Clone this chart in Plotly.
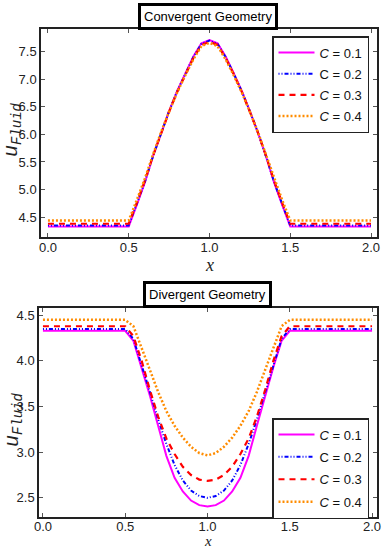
import plotly.graph_objects as go

# ---------------- data ----------------
c_labels = ["<i>C</i> = 0.1", "C = 0.2", "<i>C</i> = 0.3", "<i>C</i> = 0.4"]

x_pts = [0.0, 0.5, 0.55, 0.6, 0.65, 0.7, 0.75, 0.8, 0.85, 0.9, 0.95, 1.0,
         1.05, 1.1, 1.15, 1.2, 1.25, 1.3, 1.35, 1.4, 1.45, 1.5, 2.0]

# Convergent geometry
conv_c01 = [4.33, 4.33, 4.72, 5.13, 5.60, 6.03, 6.42, 6.79, 7.11, 7.41, 7.65, 7.71,
            7.65, 7.41, 7.11, 6.79, 6.42, 6.03, 5.60, 5.13, 4.72, 4.33, 4.33]
conv_c02 = [4.35, 4.35, 4.74, 5.14, 5.60, 6.03, 6.42, 6.78, 7.10, 7.40, 7.64, 7.70,
            7.64, 7.40, 7.10, 6.78, 6.42, 6.03, 5.60, 5.14, 4.74, 4.35, 4.35]
conv_c03 = [4.38, 4.38, 4.76, 5.16, 5.61, 6.03, 6.41, 6.77, 7.09, 7.38, 7.62, 7.68,
            7.62, 7.38, 7.09, 6.77, 6.41, 6.03, 5.61, 5.16, 4.76, 4.38, 4.38]
conv_c04 = [4.44, 4.44, 4.81, 5.20, 5.63, 6.04, 6.41, 6.76, 7.07, 7.36, 7.60, 7.66,
            7.60, 7.36, 7.07, 6.76, 6.41, 6.04, 5.63, 5.20, 4.81, 4.44, 4.44]

# Divergent geometry
div_c01 = [4.33, 4.33, 4.22, 3.93, 3.62, 3.29, 2.96, 2.72, 2.57, 2.47, 2.42, 2.405,
           2.42, 2.47, 2.57, 2.72, 2.96, 3.29, 3.62, 3.93, 4.22, 4.33, 4.33]
div_c02 = [4.35, 4.35, 4.24, 3.96, 3.66, 3.36, 3.09, 2.86, 2.69, 2.58, 2.52, 2.50,
           2.52, 2.58, 2.69, 2.86, 3.09, 3.36, 3.66, 3.96, 4.24, 4.35, 4.35]
div_c03 = [4.38, 4.38, 4.27, 4.00, 3.68, 3.39, 3.15, 2.98, 2.84, 2.75, 2.70, 2.686,
           2.70, 2.75, 2.84, 2.98, 3.15, 3.39, 3.68, 4.00, 4.27, 4.38, 4.38]
div_c04 = [4.45, 4.45, 4.38, 4.15, 3.90, 3.66, 3.45, 3.29, 3.16, 3.06, 2.99, 2.965,
           2.99, 3.06, 3.16, 3.29, 3.45, 3.66, 3.90, 4.15, 4.38, 4.45, 4.45]

x_ticks = [0.0, 0.5, 1.0, 1.5, 2.0]
conv_yticks = [4.5, 5.0, 5.5, 6.0, 6.5, 7.0, 7.5]
div_yticks = [2.5, 3.0, 3.5, 4.0, 4.5]

# ---------------- styles ----------------
W, H = 384, 550
styles = [
    dict(color="#ff00ff", dash="solid", width=2),
    dict(color="#0000ff", dash="1px,2px,1px,2px,4px,2px", width=2),
    dict(color="#ff0000", dash="6px,5px", width=2.2),
    dict(color="#ff8c00", dash="2px,2px", width=2.5),
]

fig = go.Figure()
conv = [conv_c01, conv_c02, conv_c03, conv_c04]
div = [div_c01, div_c02, div_c03, div_c04]
for i in range(4):
    fig.add_trace(go.Scatter(x=x_pts, y=conv[i], mode="lines", name=c_labels[i],
                             line=styles[i], xaxis="x", yaxis="y", legend="legend",
                             legendgroup=f"a{i}"))
for i in range(4):
    fig.add_trace(go.Scatter(x=x_pts, y=div[i], mode="lines", name=c_labels[i],
                             line=styles[i], xaxis="x2", yaxis="y2", legend="legend2",
                             legendgroup=f"b{i}"))

def px_x(p):
    return p / W

def px_y(p):
    return 1 - p / H

axis_common = dict(showgrid=False, zeroline=False, showline=True, linecolor="#222",
                   linewidth=1.5, mirror="ticks", ticks="inside", ticklen=4,
                   tickcolor="#555", tickwidth=1, automargin=False,
                   tickfont=dict(family="Liberation Sans, Arial", size=13, color="#222"))

legend_common = dict(bgcolor="white", bordercolor="#222", borderwidth=1.5,
                     font=dict(family="Liberation Sans, Arial", size=13, color="#111"),
                     xref="paper", yref="paper", xanchor="left", yanchor="top",
                     itemwidth=36)

fig.update_layout(
    width=W, height=H, margin=dict(l=0, r=0, t=0, b=0, autoexpand=False),
    paper_bgcolor="white", plot_bgcolor="white",
    xaxis=dict(domain=[px_x(41), px_x(377)], range=[-0.043, 2.037], anchor="y",
               ticklabelstandoff=-2,
               tickvals=x_ticks, ticktext=[f"{v:.1f}" for v in x_ticks], **axis_common),
    yaxis=dict(domain=[px_y(237), px_y(29)], range=[4.14, 7.91], anchor="x",
               tickvals=conv_yticks, ticktext=[f"{v:.1f}" for v in conv_yticks], **axis_common),
    xaxis2=dict(domain=[px_x(39), px_x(377)], range=[-0.024, 2.03], anchor="y2",
                ticklabelstandoff=-3,
                tickvals=x_ticks, ticktext=[f"{v:.1f}" for v in x_ticks], **axis_common),
    yaxis2=dict(domain=[px_y(517), px_y(308)], range=[2.29, 4.58], anchor="x2",
                tickvals=div_yticks, ticktext=[f"{v:.1f}" for v in div_yticks], **axis_common),
    legend=dict(x=px_x(272), y=px_y(36), tracegroupgap=1.3, **legend_common),
    legend2=dict(x=px_x(272), y=px_y(418), tracegroupgap=2.5, **legend_common),
    showlegend=True,
)

title_font = dict(family="Liberation Sans, Arial", size=13, color="black")
fig.add_annotation(x=px_x(208), y=px_y(16.5), xref="paper", yref="paper",
                   text="Convergent Geometry", showarrow=False, font=title_font,
                   bordercolor="black", borderwidth=3, borderpad=3, bgcolor="white",
                   xanchor="center", yanchor="middle")
fig.add_annotation(x=px_x(207.5), y=px_y(294.5), xref="paper", yref="paper",
                   text="Divergent Geometry", showarrow=False, font=title_font,
                   bordercolor="black", borderwidth=3, borderpad=3, bgcolor="white",
                   xanchor="center", yanchor="middle")

xlab_font = dict(family="Liberation Serif, Times New Roman", size=18, color="#222")
fig.add_annotation(x=px_x(209), y=px_y(254), xref="paper", yref="paper",
                   text="<i>x</i>", showarrow=False, font=xlab_font, borderpad=0,
                   xanchor="center", yanchor="top")
fig.add_annotation(x=px_x(208), y=px_y(550), xref="paper", yref="paper",
                   text="<i>x</i>", showarrow=False, font=dict(xlab_font, size=15),
                   borderpad=0, xanchor="center", yanchor="bottom")

ylab_font = dict(family="Liberation Mono, Courier New", size=20, color="#222")
fig.add_annotation(x=px_x(13), y=px_y(130), xref="paper", yref="paper",
                   text="<i>u<sub>Fluid</sub></i>", showarrow=False, font=ylab_font,
                   textangle=-90, xanchor="center", yanchor="middle")
fig.add_annotation(x=px_x(13), y=px_y(420), xref="paper", yref="paper",
                   text="<i>u<sub>Fluid</sub></i>", showarrow=False, font=ylab_font,
                   textangle=-90, xanchor="center", yanchor="middle")

fig.write_html("out.html", config={"displayModeBar": False},
               post_script="document.body.style.margin='0';document.body.style.padding='0';")
